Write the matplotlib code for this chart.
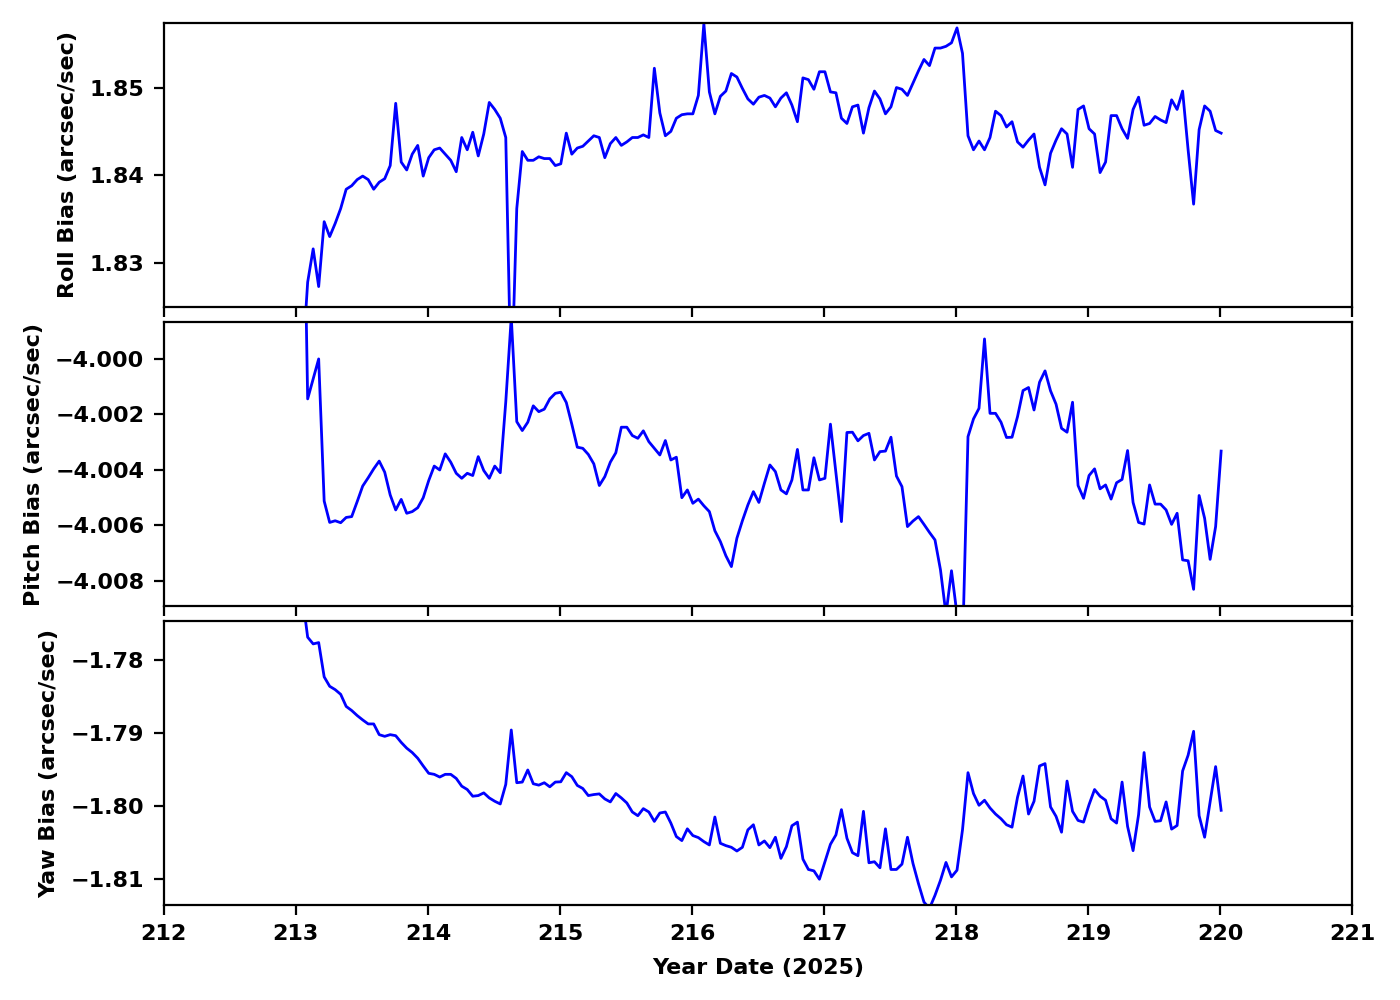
import numpy as np
import matplotlib
matplotlib.use("Agg")
import matplotlib.pyplot as plt

# Hourly samples, Year Date 2025 (day-of-year)
start_day = 213.006
step_hours = 1.0
n_samples = 168

roll_bias = [
    1.8180, 1.8278, 1.8316, 1.8273, 1.8347, 1.8330, 1.8345, 1.8362, 1.8384, 1.8388,
    1.8395, 1.8399, 1.8395, 1.8384, 1.8392, 1.8396, 1.8411, 1.8482, 1.8415, 1.8406,
    1.8424, 1.8434, 1.8399, 1.8420, 1.8429, 1.8431, 1.8424, 1.8417, 1.8404, 1.8443,
    1.8429, 1.8449, 1.8422, 1.8447, 1.8483, 1.8475, 1.8465, 1.8443, 1.8150, 1.8362,
    1.8427, 1.8417, 1.8417, 1.8421, 1.8419, 1.8419, 1.8411, 1.8413, 1.8448, 1.8424,
    1.8431, 1.8433, 1.8439, 1.8445, 1.8443, 1.8420, 1.8436, 1.8443, 1.8434, 1.8438,
    1.8443, 1.8443, 1.8446, 1.8443, 1.8522, 1.8471, 1.8445, 1.8450, 1.8465, 1.8469,
    1.8470, 1.8470, 1.8491, 1.8573, 1.8495, 1.8470, 1.8490, 1.8496, 1.8516, 1.8512,
    1.8499, 1.8487, 1.8481, 1.8489, 1.8491, 1.8488, 1.8478, 1.8488, 1.8494, 1.8480,
    1.8461, 1.8511, 1.8509, 1.8498, 1.8518, 1.8518, 1.8495, 1.8494, 1.8465, 1.8459,
    1.8478, 1.8480, 1.8448, 1.8477, 1.8496, 1.8487, 1.8470, 1.8478, 1.8500, 1.8498,
    1.8491, 1.8505, 1.8519, 1.8532, 1.8525, 1.8545, 1.8545, 1.8547, 1.8551, 1.8568,
    1.8539, 1.8445, 1.8429, 1.8439, 1.8429, 1.8443, 1.8473, 1.8468, 1.8455, 1.8461,
    1.8438, 1.8432, 1.8440, 1.8447, 1.8409, 1.8389, 1.8425, 1.8440, 1.8453, 1.8447,
    1.8409, 1.8475, 1.8479, 1.8453, 1.8447, 1.8403, 1.8415, 1.8468, 1.8468, 1.8453,
    1.8442, 1.8475, 1.8489, 1.8457, 1.8459, 1.8467, 1.8463, 1.8460, 1.8486, 1.8475,
    1.8496, 1.8429, 1.8367, 1.8452, 1.8479, 1.8473, 1.8451, 1.8448,
]

pitch_bias = [
    -3.99000, -4.00144, -4.00072, -4.00000, -4.00512, -4.00589, -4.00583, -4.00590, -4.00571, -4.00568,
    -4.00514, -4.00458, -4.00428, -4.00396, -4.00368, -4.00408, -4.00490, -4.00544, -4.00506, -4.00556,
    -4.00550, -4.00536, -4.00500, -4.00438, -4.00386, -4.00400, -4.00342, -4.00372, -4.00412, -4.00430,
    -4.00412, -4.00420, -4.00352, -4.00402, -4.00430, -4.00386, -4.00410, -4.00155, -3.99850, -4.00226,
    -4.00258, -4.00228, -4.00169, -4.00190, -4.00181, -4.00144, -4.00124, -4.00120, -4.00157, -4.00235,
    -4.00318, -4.00322, -4.00344, -4.00378, -4.00456, -4.00424, -4.00372, -4.00338, -4.00246, -4.00246,
    -4.00276, -4.00286, -4.00259, -4.00298, -4.00322, -4.00346, -4.00294, -4.00364, -4.00354, -4.00500,
    -4.00472, -4.00520, -4.00505, -4.00529, -4.00550, -4.00619, -4.00658, -4.00709, -4.00748, -4.00646,
    -4.00583, -4.00526, -4.00478, -4.00517, -4.00448, -4.00382, -4.00406, -4.00472, -4.00486, -4.00436,
    -4.00326, -4.00472, -4.00472, -4.00356, -4.00436, -4.00430, -4.00235, -4.00411, -4.00586, -4.00265,
    -4.00264, -4.00295, -4.00276, -4.00268, -4.00364, -4.00334, -4.00332, -4.00282, -4.00422, -4.00460,
    -4.00604, -4.00584, -4.00568, -4.00596, -4.00625, -4.00652, -4.00760, -4.00920, -4.00763, -4.00920,
    -4.01050, -4.00280, -4.00216, -4.00178, -3.99928, -4.00196, -4.00196, -4.00228, -4.00283, -4.00282,
    -4.00208, -4.00114, -4.00103, -4.00184, -4.00084, -4.00043, -4.00115, -4.00163, -4.00250, -4.00264,
    -4.00156, -4.00456, -4.00502, -4.00420, -4.00396, -4.00468, -4.00454, -4.00505, -4.00446, -4.00434,
    -4.00330, -4.00517, -4.00589, -4.00595, -4.00454, -4.00523, -4.00523, -4.00544, -4.00596, -4.00556,
    -4.00724, -4.00727, -4.00830, -4.00492, -4.00574, -4.00722, -4.00604, -4.00332,
]

yaw_bias = [
    -1.77100, -1.77682, -1.77774, -1.77756, -1.78226, -1.78355, -1.78401, -1.78465, -1.78631, -1.78687,
    -1.78756, -1.78816, -1.78871, -1.78871, -1.79018, -1.79041, -1.79018, -1.79032, -1.79124, -1.79203,
    -1.79263, -1.79341, -1.79447, -1.79548, -1.79562, -1.79599, -1.79562, -1.79562, -1.79618, -1.79724,
    -1.79770, -1.79862, -1.79853, -1.79816, -1.79885, -1.79931, -1.79968, -1.79700, -1.78954, -1.79677,
    -1.79668, -1.79502, -1.79691, -1.79710, -1.79677, -1.79733, -1.79668, -1.79664, -1.79539, -1.79594,
    -1.79714, -1.79756, -1.79853, -1.79839, -1.79830, -1.79899, -1.79940, -1.79825, -1.79885, -1.79954,
    -1.80078, -1.80129, -1.80032, -1.80078, -1.80207, -1.80092, -1.80078, -1.80230, -1.80415, -1.80470,
    -1.80309, -1.80401, -1.80429, -1.80484, -1.80530, -1.80147, -1.80507, -1.80539, -1.80562, -1.80613,
    -1.80562, -1.80323, -1.80253, -1.80530, -1.80475, -1.80567, -1.80424, -1.80714, -1.80553, -1.80267,
    -1.80217, -1.80724, -1.80866, -1.80885, -1.81000, -1.80760, -1.80521, -1.80392, -1.80046, -1.80438,
    -1.80636, -1.80677, -1.80069, -1.80774, -1.80760, -1.80843, -1.80309, -1.80866, -1.80866, -1.80793,
    -1.80424, -1.80783, -1.81060, -1.81313, -1.81400, -1.81221, -1.81014, -1.80770, -1.80968, -1.80876,
    -1.80323, -1.79539, -1.79825, -1.79986, -1.79917, -1.80023, -1.80106, -1.80171, -1.80253, -1.80286,
    -1.79876, -1.79585, -1.80106, -1.79931, -1.79447, -1.79415, -1.80009, -1.80138, -1.80355, -1.79654,
    -1.80069, -1.80194, -1.80217, -1.79977, -1.79770, -1.79862, -1.79917, -1.80171, -1.80230, -1.79668,
    -1.80276, -1.80608, -1.80115, -1.79263, -1.80009, -1.80207, -1.80198, -1.79940, -1.80313, -1.80263,
    -1.79516, -1.79300, -1.78972, -1.80129, -1.80424, -1.79940, -1.79456, -1.80055,
]

x_ticks = [212, 213, 214, 215, 216, 217, 218, 219, 220, 221]
roll_ticks = [1.83, 1.84, 1.85]
pitch_ticks = [-4.008, -4.006, -4.004, -4.002, -4.000]
yaw_ticks = [-1.81, -1.80, -1.79, -1.78]

time = start_day + np.arange(1, n_samples + 1) * step_hours / 24.0

plt.rcParams["font.family"] = ["DejaVu Sans"]
plt.rcParams["font.weight"] = "bold"
plt.rcParams["font.size"] = 8

fig = plt.figure(figsize=(7, 5), dpi=200)
left, width = 0.117, 0.849
h = 0.284
bottoms = [0.693, 0.394, 0.095]
axes = [fig.add_axes([left, b, width, h]) for b in bottoms]

series = [
    (roll_bias, "Roll Bias (arcsec/sec)", (1.82497, 1.85736), roll_ticks, "%.2f"),
    (pitch_bias, "Pitch Bias (arcsec/sec)", (-4.0089, -3.99867), pitch_ticks, "%.3f"),
    (yaw_bias, "Yaw Bias (arcsec/sec)", (-1.81353, -1.7746), yaw_ticks, "%.2f"),
]

for ax, (vals, label, ylim, yt, fmt) in zip(axes, series):
    ax.plot(time, vals, color="blue", linewidth=1.0)
    ax.set_xlim(212, 221)
    ax.set_ylim(*ylim)
    ax.set_xticks(x_ticks)
    ax.set_yticks(yt)
    ax.set_yticklabels([(fmt % v).replace("-", "\u2212") for v in yt])
    ax.set_ylabel(label, fontweight="bold")
    for t in ax.get_yticklabels():
        t.set_fontweight("bold")

for ax in axes[:2]:
    ax.tick_params(labelbottom=False)

axes[2].set_xticklabels([str(v) for v in x_ticks], fontweight="bold")
axes[2].set_xlabel("Year Date (2025)", fontweight="bold", labelpad=5)

fig.savefig("out.png", dpi=200)
